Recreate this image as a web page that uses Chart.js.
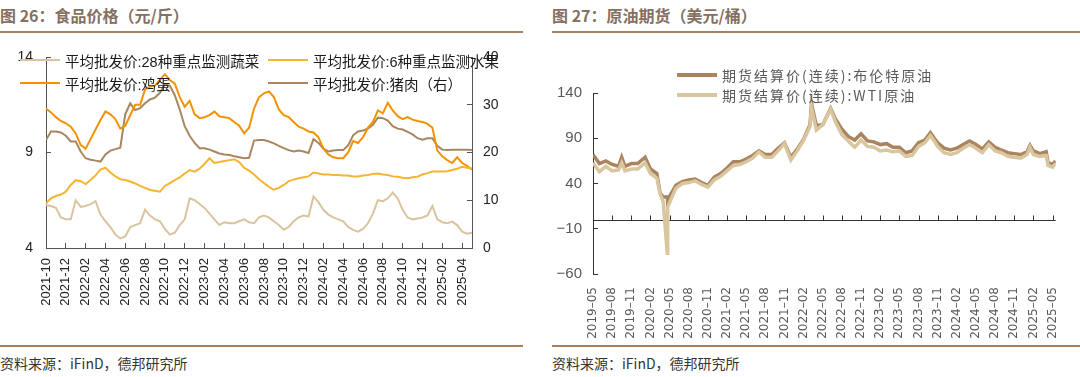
<!DOCTYPE html>
<html>
<head>
<meta charset="utf-8">
<script src="https://cdn.jsdelivr.net/npm/chart.js@4.4.1/dist/chart.umd.min.js"></script>
<style>
  body { margin: 0; background: #fff; width: 1080px; height: 377px; overflow: hidden; position: relative;
         font-family: "Noto Sans CJK SC", sans-serif; }
  .title { position: absolute; top: 5px; font-size: 16px; font-weight: bold; color: #86705f; line-height: 20px; white-space: nowrap; }
  .rule { position: absolute; height: 2px; background: #a8805e; }
  .src { position: absolute; top: 353px; font-size: 14px; color: #333; line-height: 20px; white-space: nowrap; }
  .box { position: absolute; top: 40px; height: 305px; }
  .item { position: absolute; display: flex; align-items: center; height: 20px; white-space: nowrap; }
  .item span { display: inline-block; width: 40px; margin-right: 5px; }
  #foodLegend .item { font-family: "Liberation Sans", "Noto Sans CJK SC", sans-serif; font-size: 14.5px; color: #1a1a1a; }
  #oilLegend .item { font-family: "Noto Sans CJK SC", sans-serif; font-size: 14px; letter-spacing: 2px; color: #595959; }
</style>
</head>
<body>
<div class="title" style="left:0">图 26：食品价格（元/斤）</div>
<div class="title" style="left:552px">图 27：原油期货（美元/桶）</div>
<div class="rule" style="left:0;width:523px;top:31px"></div>
<div class="rule" style="left:552px;width:528px;top:31px"></div>
<div class="box" style="left:0;width:540px"><canvas id="food" width="540" height="305"></canvas></div>
<div class="box" style="left:552px;width:528px"><canvas id="oil" width="528" height="305"></canvas></div>
<div id="foodLegend"></div>
<div id="oilLegend"></div>
<div class="rule" style="left:0;width:523px;top:345px"></div>
<div class="rule" style="left:552px;width:528px;top:345px"></div>
<div class="src" style="left:0">资料来源：iFinD，德邦研究所</div>
<div class="src" style="left:552px">资料来源：iFinD，德邦研究所</div>
<script>
// ---- 图26 食品价格: half-month steps starting 2021-10 ----
const foodStart = [2021, 10];
const foodTickLabels = ['2021-10','2021-12','2022-02','2022-04','2022-06','2022-08','2022-10','2022-12',
  '2023-02','2023-04','2023-06','2023-08','2023-10','2023-12','2024-02','2024-04','2024-06','2024-08',
  '2024-10','2024-12','2025-02','2025-04'];
const foodLeftTicks = [4, 9, 14];
const foodRightTicks = [0, 10, 20, 30, 40];

const vegPrice = [
  6.25, 6.2, 6.1, 5.6, 5.5, 5.5, 6.5, 6.15, 6.2, 6.3, 6.45, 5.75,
  5.4, 5.1, 4.7, 4.5, 4.6, 5.1, 5.2, 5.3, 6.0, 5.7, 5.5, 5.4,
  5.0, 4.7, 4.8, 5.2, 5.5, 6.6, 6.5, 6.3, 6.1, 5.8, 5.5, 5.2,
  5.35, 5.3, 5.3, 5.4, 5.5, 5.35, 5.3, 5.6, 5.7, 5.6, 5.4, 5.2,
  4.95, 5.1, 5.4, 5.6, 5.7, 5.65, 6.7, 6.4, 6.0, 5.75, 5.6, 5.5,
  5.4, 5.1, 4.95, 4.86, 5.0, 5.3, 5.8, 6.5, 6.45, 6.6, 6.9, 6.6,
  6.0, 5.6, 5.5, 5.55, 5.6, 5.7, 6.2, 5.5, 5.35, 5.3, 5.38, 5.2,
  4.86, 4.75, 4.8];
const fruitPrice = [
  6.34, 6.6, 6.72, 6.8, 6.95, 7.3, 7.55, 7.5, 7.35, 7.56, 7.8, 8.1,
  8.2, 7.95, 7.75, 7.6, 7.56, 7.48, 7.38, 7.25, 7.15, 7.04, 7.0, 6.95,
  7.25, 7.4, 7.55, 7.7, 7.9, 8.08, 8.0, 8.15, 8.4, 8.7, 8.45, 8.5,
  8.55, 8.6, 8.65, 8.5, 8.2, 8.05, 7.85, 7.6, 7.4, 7.2, 7.05, 7.15,
  7.3, 7.5, 7.58, 7.65, 7.7, 7.75, 7.95, 7.9, 7.85, 7.85, 7.82, 7.82,
  7.8, 7.8, 7.75, 7.75, 7.8, 7.82, 7.88, 7.9, 7.85, 7.82, 7.75, 7.73,
  7.68, 7.65, 7.7, 7.73, 7.85, 7.92, 8.0, 8.0, 8.0, 8.02, 8.08, 8.15,
  8.25, 8.2, 8.17];
const eggPrice = [
  11.3, 11.1, 10.85, 10.65, 10.53, 10.35, 10.0, 9.4, 9.2, 9.7, 10.2, 10.7,
  11.15, 11.0, 10.75, 10.25, 10.4, 10.95, 11.5, 11.5, 12.3, 12.45, 12.5, 12.8,
  13.1, 12.8, 12.6, 11.9, 11.4, 11.7, 11.0, 10.8, 10.85, 10.96, 11.14, 10.9,
  10.85, 10.8, 10.6, 10.4, 10.0, 10.3, 11.3, 11.9, 12.1, 12.2, 11.9, 11.25,
  10.95, 10.85, 10.6, 10.35, 10.25, 10.1, 10.05, 9.8, 9.2, 8.9, 8.75, 8.7,
  8.7, 9.0, 9.6, 9.5, 9.8, 10.3, 10.6, 11.2, 11.05, 11.6, 11.2, 10.9,
  10.75, 10.85, 10.72, 10.65, 10.6, 10.5, 10.3, 9.1, 8.8, 8.6, 8.45, 8.75,
  8.45, 8.3, 8.1];
const porkPrice = [
  22.6, 24.4, 24.4, 24.2, 23.5, 22.3, 22.3, 20.2, 18.8, 18.5, 18.3, 18.1,
  19.6, 20.4, 20.7, 21.0, 28.0, 30.3, 28.9, 29.3, 30.3, 31.1, 31.5, 32.5,
  34.2, 34.0, 32.0, 29.0, 25.5, 23.5, 22.0, 20.9, 20.9, 20.6, 20.2, 19.8,
  19.6, 19.5, 19.2, 19.0, 18.8, 18.9, 22.5, 22.6, 22.6, 22.3, 21.9, 21.4,
  20.9, 20.5, 20.2, 20.4, 20.2, 19.9, 22.8, 22.0, 20.8, 20.2, 20.4, 20.5,
  20.5, 21.5, 23.6, 24.4, 24.6, 25.0, 25.8, 27.3, 27.2, 26.7, 25.5, 25.0,
  24.8, 24.3, 23.8, 23.0, 22.7, 23.0, 23.0, 21.4, 20.6, 20.5, 20.6, 20.6,
  20.6, 20.6, 20.5];

// ---- 图27 原油期货 ----
const oilStart = [2019, 5];
const oilTickLabels = ['2019-05','2019-08','2019-11','2020-02','2020-05','2020-08','2020-11','2021-02',
  '2021-05','2021-08','2021-11','2022-02','2022-05','2022-08','2022-11','2023-02','2023-05','2023-08',
  '2023-11','2024-02','2024-05','2024-08','2024-11','2025-02','2025-05'];
const oilYTicks = [-60, -10, 40, 90, 140];
const oilDates = [
  '2019-05-01','2019-06-01','2019-07-01','2019-08-01','2019-09-01','2019-09-16','2019-10-01','2019-11-01',
  '2019-12-01','2020-01-06','2020-02-01','2020-03-01','2020-03-16','2020-04-01','2020-04-20','2020-04-22',
  '2020-05-01','2020-06-01','2020-07-01','2020-08-01','2020-09-01','2020-10-01','2020-11-01','2020-12-01',
  '2021-01-01','2021-02-01','2021-03-01','2021-04-01','2021-05-01','2021-06-01','2021-07-01','2021-08-01',
  '2021-09-01','2021-10-01','2021-11-01','2021-12-01','2022-01-01','2022-02-01','2022-03-01','2022-03-08',
  '2022-04-01','2022-05-01','2022-06-08','2022-07-01','2022-08-01','2022-09-01','2022-10-01','2022-11-01',
  '2022-12-01','2023-01-01','2023-02-01','2023-03-01','2023-04-01','2023-05-01','2023-06-01','2023-07-01',
  '2023-08-01','2023-09-01','2023-09-27','2023-10-15','2023-11-01','2023-12-01','2024-01-01','2024-02-01',
  '2024-03-01','2024-04-01','2024-05-01','2024-06-01','2024-07-01','2024-08-01','2024-09-01','2024-10-01',
  '2024-11-01','2024-12-01','2025-01-01','2025-01-15','2025-02-01','2025-03-01','2025-04-01','2025-04-10',
  '2025-05-01','2025-05-15'];
const brentPrice = [
  72, 62, 65, 61, 59, 69, 59, 62,
  62, 69, 56, 51, 30, 25, 25, 20,
  26, 38, 42, 44, 45, 41, 38, 47,
  51, 57, 64, 64, 67, 71, 76, 72,
  72, 79, 85, 69, 78, 89, 105, 128,
  104, 105, 123, 111, 100, 92, 88, 95,
  87, 86, 83, 84, 80, 80, 74, 76,
  85, 88, 96, 90, 85, 79, 77, 79,
  83, 87, 83, 78, 86, 80, 77, 74,
  73, 72, 75, 82, 76, 73, 75, 63,
  61, 65];
const wtiPrice = [
  63, 53, 59, 54, 55, 63, 54, 56,
  56, 63, 51, 46, 29, 20, -37, 14,
  19, 35, 40, 41, 43, 39, 36, 44,
  48, 54, 60, 61, 64, 68, 75, 69,
  69, 76, 84, 66, 76, 88, 103, 124,
  99, 105, 122, 108, 94, 87, 80, 88,
  81, 80, 76, 77, 75, 76, 70, 71,
  81, 85, 93, 87, 81, 74, 72, 74,
  79, 83, 79, 74, 83, 76, 74, 70,
  69, 68, 72, 80, 72, 70, 71, 60,
  58, 62];

function monthIndex(s, base) {
  const [y, m, d] = s.split('-').map(Number);
  return (y - base[0]) * 12 + (m - base[1]) + ((d || 1) - 1) / 30;
}
const foodX = vegPrice.map((_, i) => i / 2);
const oilX = oilDates.map(d => monthIndex(d, oilStart));
const pts = (xs, ys) => ys.map((v, i) => ({ x: xs[i], y: v }));

// fixed axis width, and no extra room asked for the end labels
const fixWidth = w => s => { s.width = w; s.paddingTop = 0; s.paddingBottom = 0; };

Chart.defaults.font.family = '"Liberation Sans", "Noto Sans CJK SC", sans-serif';

const foodChart = new Chart(document.getElementById('food'), {
  type: 'line',
  data: {
    datasets: [
      { label: '平均批发价:28种重点监测蔬菜', data: pts(foodX, vegPrice), borderColor: '#d8c49e', yAxisID: 'y' },
      { label: '平均批发价:6种重点监测水果', data: pts(foodX, fruitPrice), borderColor: '#f5b531', yAxisID: 'y' },
      { label: '平均批发价:鸡蛋', data: pts(foodX, eggPrice), borderColor: '#f39200', yAxisID: 'y' },
      { label: '平均批发价:猪肉（右）', data: pts(foodX, porkPrice), borderColor: '#a88760', yAxisID: 'y1' }
    ]
  },
  options: {
    responsive: false, animation: false, devicePixelRatio: 1,
    elements: { point: { radius: 0 }, line: { borderWidth: 2, tension: 0 } },
    layout: { padding: { left: 0, right: 28, top: 17, bottom: 7 } },
    plugins: { legend: { display: false }, tooltip: { enabled: false } },
    scales: {
      x: {
        type: 'linear', min: 0, max: 43,
        afterBuildTicks: a => { a.ticks = foodTickLabels.map(l => ({ value: monthIndex(l, foodStart) })); },
        afterFit: s => { s.height = 90; },
        ticks: { autoSkip: false, maxRotation: 90, minRotation: 90, padding: 15, color: '#222', font: { size: 13 },
                 callback: (v, i) => foodTickLabels[i] },
        grid: { drawOnChartArea: false, tickLength: -5, tickColor: '#555' },
        border: { color: '#555' }
      },
      y: {
        position: 'left', min: 4, max: 14,
        afterBuildTicks: a => { a.ticks = foodLeftTicks.map(v => ({ value: v })); },
        afterFit: fixWidth(46),
        ticks: { padding: 18, color: '#222', font: { size: 14 } },
        grid: { drawOnChartArea: false, tickLength: -5, tickColor: '#555' },
        border: { color: '#555' }
      },
      y1: {
        position: 'right', min: 0, max: 40,
        afterBuildTicks: a => { a.ticks = foodRightTicks.map(v => ({ value: v })); },
        afterFit: fixWidth(40),
        ticks: { padding: 16, color: '#222', font: { size: 14 } },
        grid: { drawOnChartArea: false, tickLength: -5, tickColor: '#555' },
        border: { color: '#555' }
      }
    }
  }
});

// axis line through zero with ticks pointing up
const zeroLine = {
  id: 'zeroLine',
  beforeDatasetsDraw(chart) {
    const { ctx, chartArea, scales: { x, y } } = chart;
    const py = Math.round(y.getPixelForValue(0)) + 0.5;
    ctx.save();
    ctx.strokeStyle = '#333';
    ctx.lineWidth = 1;
    ctx.beginPath();
    ctx.moveTo(chartArea.left, py);
    ctx.lineTo(chartArea.right, py);
    x.ticks.forEach(t => {
      const px = Math.round(x.getPixelForValue(t.value)) + 0.5;
      ctx.moveTo(px, py);
      ctx.lineTo(px, py - 5);
    });
    ctx.stroke();
    ctx.restore();
  }
};

const oilChart = new Chart(document.getElementById('oil'), {
  type: 'line',
  data: {
    datasets: [
      { label: '期货结算价(连续):布伦特原油', data: pts(oilX, brentPrice), borderColor: '#a9845e', order: 2 },
      { label: '期货结算价(连续):WTI原油', data: pts(oilX, wtiPrice), borderColor: '#d9c59e', order: 1 }
    ]
  },
  options: {
    responsive: false, animation: false, devicePixelRatio: 1,
    elements: { point: { radius: 0 }, line: { borderWidth: 3.5, tension: 0 } },
    layout: { padding: { left: 0, right: 9, top: 53, bottom: 5 } },
    plugins: { legend: { display: false }, tooltip: { enabled: false } },
    scales: {
      x: {
        type: 'linear', min: 0, max: 72.5,
        afterBuildTicks: a => { a.ticks = oilTickLabels.map(l => ({ value: monthIndex(l, oilStart) })); },
        afterFit: s => { s.height = 66; },
        ticks: { autoSkip: false, maxRotation: 90, minRotation: 90, padding: 13, color: '#595959',
                 font: { family: '"DejaVu Sans", sans-serif', size: 12 },
                 callback: (v, i) => oilTickLabels[i].replace('-', '–') },
        grid: { display: false, drawTicks: false },
        border: { display: false }
      },
      y: {
        min: -60, max: 140,
        afterBuildTicks: a => { a.ticks = oilYTicks.map(v => ({ value: v })); },
        afterFit: fixWidth(41),
        ticks: { padding: 16, color: '#595959', font: { size: 15 }, callback: v => String(v).replace('-', '−') },
        grid: { drawOnChartArea: false, tickLength: -5, tickColor: '#333' },
        border: { color: '#333' }
      }
    }
  },
  plugins: [zeroLine]
});

// legends as html text, built from the datasets
function htmlLegend(chart, boxId, slots, thickness) {
  const box = document.getElementById(boxId);
  chart.data.datasets.forEach((ds, i) => {
    const item = document.createElement('div');
    item.className = 'item';
    item.style.left = slots[i][0] + 'px';
    item.style.top = (slots[i][1] - 10) + 'px';
    const sw = document.createElement('span');
    sw.style.background = ds.borderColor;
    sw.style.height = thickness + 'px';
    item.appendChild(sw);
    item.appendChild(document.createTextNode(ds.label));
    box.appendChild(item);
  });
}
htmlLegend(foodChart, 'foodLegend', [[20, 60], [268, 60], [20, 83], [268, 83]], 2);
htmlLegend(oilChart, 'oilLegend', [[677, 75], [677, 95]], 4);
</script>
</body>
</html>
